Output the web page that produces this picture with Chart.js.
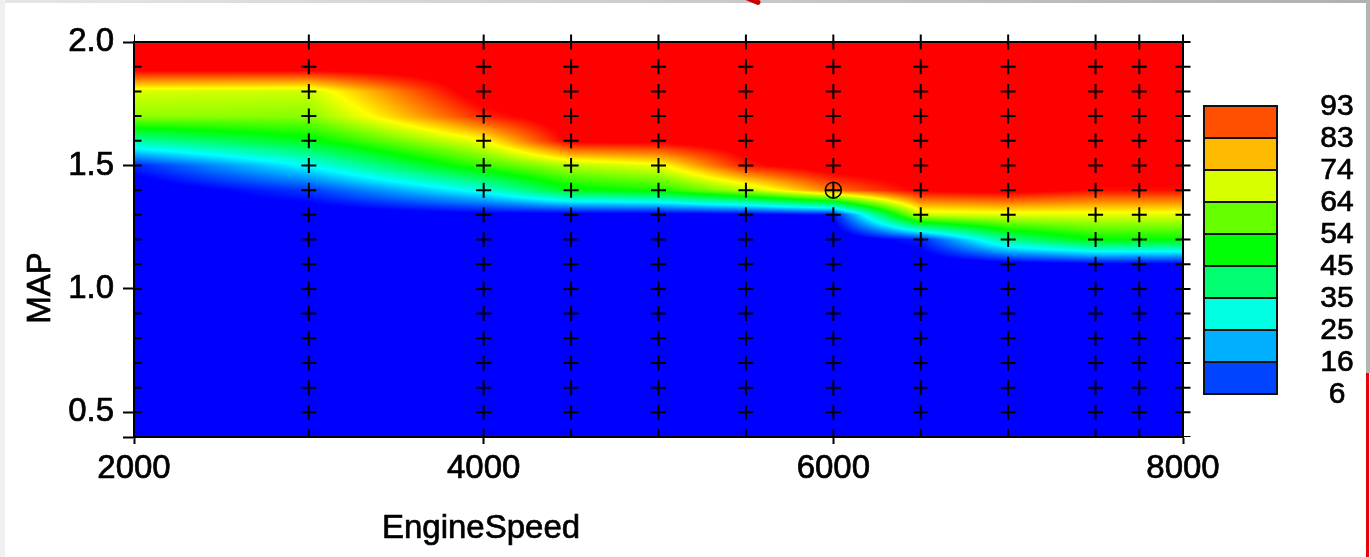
<!DOCTYPE html>
<html>
<head>
<meta charset="utf-8">
<script src="https://cdn.jsdelivr.net/npm/chart.js@4.4.1/dist/chart.umd.min.js"></script>
<style>
  html, body { margin: 0; padding: 0; background: #fff; }
  #wrap { position: relative; width: 1370px; height: 557px; overflow: hidden; }
  canvas { display: block; }
  .edge { position: absolute; }
</style>
</head>
<body>
<div id="wrap">
  <canvas id="mapChart" width="1370" height="557"></canvas>
  <div class="edge" style="left:0;top:0;width:1370px;height:3px;background:linear-gradient(to right,#e6e6e6,#b0b0b0);"></div>
  <div class="edge" style="left:0;top:0;width:5px;height:557px;background:#f0f0f0;"></div>
  <div class="edge" style="left:1366px;top:0;width:4px;height:373px;background:#b4b4b4;"></div>
  <div class="edge" style="left:1366px;top:373px;width:3px;height:184px;background:#e8000a;"></div>
  <div class="edge" style="left:741px;top:-3px;width:20px;height:5px;background:#c80000;transform:rotate(22deg);border-radius:3px;"></div>
</div>
<script>
// breakpoints of the table
const engineSpeed = [2000, 3000, 4000, 4500, 5000, 5500, 6000, 6500, 7000, 7500, 7750, 8000];
const mapValues = [0.4, 0.5, 0.6, 0.7, 0.8, 0.9, 1.0, 1.1, 1.2, 1.3, 1.4, 1.5, 1.6, 1.7, 1.8, 1.9, 2.0];

// table values per speed column, MAP ascending (0.4 .. 2.0)
const z2000 = [0, 0, 0, 0, 0, 0, 0, 0, 0, 0, 0, 8, 36, 63, 69, 100, 100];
const z3000 = [0, 0, 0, 0, 0, 0, 0, 0, 0, 0, 10, 28, 48, 62, 68, 100, 100];
const z4000 = [0, 0, 0, 0, 0, 0, 0, 0, 0, 3, 30, 55, 72, 92, 100, 100, 100];
const z4500 = [0, 0, 0, 0, 0, 0, 0, 0, 0, 2, 48, 66, 97, 100, 100, 100, 100];
const z5000 = [0, 0, 0, 0, 0, 0, 0, 0, 0, 2, 52, 71, 97, 100, 100, 100, 100];
const z5500 = [0, 0, 0, 0, 0, 0, 0, 0, 0, 3, 66, 93, 100, 100, 100, 100, 100];
const z6000 = [0, 0, 0, 0, 0, 0, 0, 0, 0, 6, 85, 100, 100, 100, 100, 100, 100];
const z6500 = [0, 0, 0, 0, 0, 0, 0, 0, 8, 68, 96, 100, 100, 100, 100, 100, 100];
const z7000 = [0, 0, 0, 0, 0, 0, 0, 2, 38, 70, 98, 100, 100, 100, 100, 100, 100];
const z7500 = [0, 0, 0, 0, 0, 0, 0, 4, 50, 70, 94, 100, 100, 100, 100, 100, 100];
const z7750 = [0, 0, 0, 0, 0, 0, 0, 4, 50, 70, 94, 100, 100, 100, 100, 100, 100];
const z8000 = [0, 0, 0, 0, 0, 0, 0, 4, 50, 70, 94, 100, 100, 100, 100, 100, 100];
const table = [z2000, z3000, z4000, z4500, z5000, z5500, z6000, z6500, z7000, z7500, z7750, z8000];

// operating point
const opSpeed = [6000];
const opMap = [1.4];

// axes and legend labels
const xTickValues = [2000, 4000, 6000, 8000];
const yTickValues = [0.4, 0.5, 1.0, 1.5, 2.0];
const yTickLabels = ['', '0.5', '1.0', '1.5', '2.0'];
const levels = [6, 16, 25, 35, 45, 54, 64, 74, 83, 93];

const FONT = "'Liberation Sans', Arial, sans-serif";

// rainbow: blue (low) -> red (high)
function valueColor(v) {
    const t = Math.min(1, Math.max(0, (v - 5) / 90));
    const h = 240 * (1 - t) / 60;
    const x = 1 - Math.abs((h % 2) - 1);
    let r = 0, g = 0, b = 0;
    if (h < 1) { r = 1; g = x; }
    else if (h < 2) { r = x; g = 1; }
    else if (h < 3) { g = 1; b = x; }
    else { g = x; b = 1; }
    return [Math.round(r * 255), Math.round(g * 255), Math.round(b * 255)];
}

function findCell(arr, v) {
    for (let i = 0; i < arr.length - 1; i++) {
        if (v <= arr[i + 1]) return i;
    }
    return arr.length - 2;
}

function sample(xv, yv) {
    const i = findCell(engineSpeed, xv);
    const j = findCell(mapValues, yv);
    let tx = (xv - engineSpeed[i]) / (engineSpeed[i + 1] - engineSpeed[i]);
    let ty = (yv - mapValues[j]) / (mapValues[j + 1] - mapValues[j]);
    tx = Math.min(1, Math.max(0, tx));
    ty = Math.min(1, Math.max(0, ty));
    const a = table[i][j], b = table[i + 1][j];
    const c = table[i][j + 1], d = table[i + 1][j + 1];
    return (a * (1 - tx) + b * tx) * (1 - ty) + (c * (1 - tx) + d * tx) * ty;
}

const heatmap = {
    id: 'heatmap',
    beforeDatasetsDraw(chart) {
        const { ctx, chartArea: area, scales } = chart;
        const w = Math.round(area.right - area.left);
        const h = Math.round(area.bottom - area.top);
        const off = document.createElement('canvas');
        off.width = w; off.height = h;
        const octx = off.getContext('2d');
        const img = octx.createImageData(w, h);
        const xs = [];
        for (let i = 0; i < w; i++) xs.push(scales.x.getValueForPixel(area.left + i + 0.5));
        for (let j = 0; j < h; j++) {
            const yv = scales.y.getValueForPixel(area.top + j + 0.5);
            for (let i = 0; i < w; i++) {
                const c = valueColor(sample(xs[i], yv));
                const k = (j * w + i) * 4;
                img.data[k] = c[0]; img.data[k + 1] = c[1]; img.data[k + 2] = c[2]; img.data[k + 3] = 255;
            }
        }
        octx.putImageData(img, 0, 0);
        ctx.drawImage(off, area.left, area.top);

        // frame
        ctx.save();
        ctx.strokeStyle = '#000';
        ctx.lineWidth = 2;
        ctx.strokeRect(area.left, area.top, area.right - area.left, area.bottom - area.top);
        ctx.restore();
    }
};

function heavyText(ctx, text, x, y) {
    ctx.fillText(text, x, y);
    ctx.strokeText(text, x, y);
}

const decorations = {
    id: 'decorations',
    afterDraw(chart) {
        const ctx = chart.ctx;
        ctx.save();
        ctx.fillStyle = '#000';
        ctx.strokeStyle = '#000';
        ctx.lineWidth = 0.7;

        // axis titles
        ctx.font = '33px ' + FONT;
        ctx.textAlign = 'center';
        ctx.textBaseline = 'alphabetic';
        heavyText(ctx, 'EngineSpeed', 481, 538);
        ctx.save();
        ctx.translate(50, 288);
        ctx.rotate(-Math.PI / 2);
        heavyText(ctx, 'MAP', 0, 0);
        ctx.restore();

        // colour legend
        const left = 1204, width = 73, top = 106, bottom = 394;
        const n = levels.length - 1;
        const step = (bottom - top) / n;
        for (let i = 0; i < n; i++) {
            const mid = (levels[i] + levels[i + 1]) / 2;
            const c = valueColor(mid);
            const y0 = bottom - (i + 1) * step;
            ctx.fillStyle = 'rgb(' + c.join(',') + ')';
            ctx.fillRect(left, y0, width, step);
            ctx.strokeStyle = '#111';
            ctx.lineWidth = 2;
            ctx.strokeRect(left, y0, width, step);
        }
        ctx.fillStyle = '#000';
        ctx.strokeStyle = '#000';
        ctx.lineWidth = 0.7;
        ctx.font = '30px ' + FONT;
        ctx.textBaseline = 'middle';
        levels.forEach((lv, i) => {
            heavyText(ctx, String(lv), 1337, bottom - i * step + 1);
        });
        ctx.restore();
    }
};

const gridPoints = [];
engineSpeed.forEach(s => mapValues.forEach(m => gridPoints.push({ x: s, y: m })));

new Chart(document.getElementById('mapChart'), {
    type: 'scatter',
    data: {
        datasets: [{
            data: gridPoints,
            pointStyle: 'cross',
            pointRadius: 7.5,
            borderColor: '#000',
            borderWidth: 2,
            clip: { left: 0, top: false, right: false, bottom: 0 }
        }, {
            data: opSpeed.map((s, i) => ({ x: s, y: opMap[i] })),
            pointStyle: 'circle',
            pointRadius: 8,
            borderColor: '#000',
            borderWidth: 1.5,
            backgroundColor: 'rgba(0,0,0,0)',
            clip: false
        }]
    },
    options: {
        responsive: false,
        animation: false,
        events: [],
        layout: { padding: { left: 0, top: 42, right: 187, bottom: 0 } },
        plugins: { legend: { display: false }, tooltip: { enabled: false } },
        scales: {
            x: {
                type: 'linear',
                min: 2000,
                max: 8000,
                afterBuildTicks: s => { s.ticks = xTickValues.map(v => ({ value: v })); },
                afterFit: s => { s.height = 120; },
                grid: { drawOnChartArea: false, drawTicks: true, tickLength: 7, tickColor: '#000', tickWidth: 2 },
                border: { color: '#000', width: 2 },
                ticks: {
                    color: '#000', font: { size: 33, family: FONT }, padding: 5, maxRotation: 0,
                    textStrokeColor: '#000', textStrokeWidth: 0.7,
                    callback: v => String(v)
                }
            },
            y: {
                type: 'linear',
                min: 0.4,
                max: 2.0,
                afterBuildTicks: s => { s.ticks = yTickValues.map(v => ({ value: v })); },
                afterFit: s => { s.width = 134; },
                grid: { drawOnChartArea: false, drawTicks: true, tickLength: 11, tickColor: '#000', tickWidth: 2 },
                border: { color: '#000', width: 2 },
                ticks: {
                    color: '#000', font: { size: 33, family: FONT }, padding: 9,
                    textStrokeColor: '#000', textStrokeWidth: 0.7,
                    callback: (v, i) => yTickLabels[i]
                }
            }
        }
    },
    plugins: [heatmap, decorations]
});
</script>
</body>
</html>
